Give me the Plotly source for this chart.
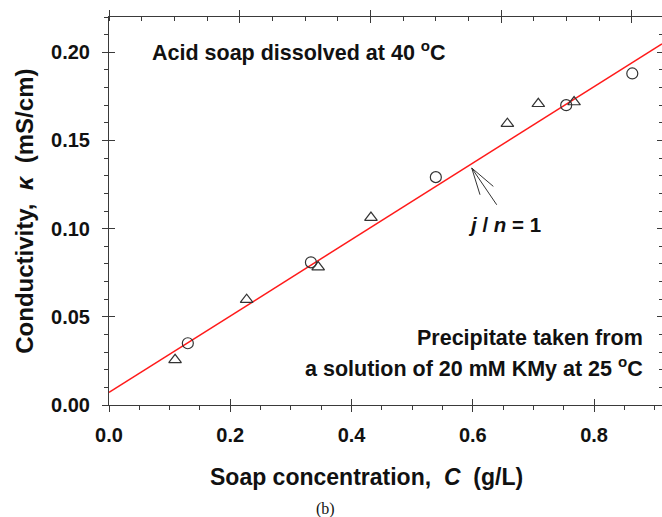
import numpy as np
import plotly.graph_objects as go

# Measured conductivity of the acid soap (two preparations)
conc_circle = [0.130, 0.333, 0.539, 0.754, 0.863]
kappa_circle = [0.0350, 0.0809, 0.1292, 0.1700, 0.1880]
conc_triangle = [0.109, 0.227, 0.345, 0.432, 0.657, 0.708, 0.767]
kappa_triangle = [0.0256, 0.0597, 0.0782, 0.1063, 0.1595, 0.1708, 0.1718]

# Straight line for j / n = 1
fit_intercept = 0.0071
fit_slope = 0.2168

X_RANGE = [0.0, 0.912]
TOP_RANGE = [0.0, 0.846]
Y_RANGE = [0.0, 0.22]

AX = "#3a3a3a"
TXT = "#111111"
SANS = "Liberation Sans, Arial, sans-serif"

fit_x = np.array(X_RANGE)
fit_y = fit_intercept + fit_slope * fit_x

fig = go.Figure()
fig.add_trace(go.Scatter(x=fit_x, y=fit_y, mode="lines",
                         line=dict(color="#ff1a1a", width=1.5),
                         showlegend=False, hoverinfo="skip"))
fig.add_trace(go.Scatter(x=conc_circle, y=kappa_circle, mode="markers",
                         marker=dict(symbol="circle-open", size=11, color="#333333",
                                     line=dict(width=1.2)),
                         showlegend=False))
fig.add_trace(go.Scatter(x=conc_triangle, y=kappa_triangle, mode="markers",
                         marker=dict(symbol="triangle-up-open", size=11, color="#333333",
                                     line=dict(width=1.2)),
                         showlegend=False))

# empty traces so the extra frame axes are drawn
for xa, ya in [("x2", "y"), ("x3", "y2"), ("x4", "y3")]:
    fig.add_trace(go.Scatter(x=[None], y=[None], xaxis=xa, yaxis=ya,
                             showlegend=False, hoverinfo="skip"))

plain = dict(showgrid=False, zeroline=False)
fig.update_layout(
    width=662, height=517,
    margin=dict(l=109, r=0, t=17, b=112),
    paper_bgcolor="white", plot_bgcolor="white",
    font=dict(family=SANS, color=TXT),
    xaxis=dict(range=X_RANGE, dtick=0.2, tick0=0, tickformat=".1f",
               ticks="outside", ticklen=6, tickwidth=1, tickcolor=AX,
               showline=True, linecolor=AX, linewidth=1,
               minor=dict(dtick=0.05, tick0=0, ticks="outside", ticklen=4, tickcolor=AX),
               tickfont=dict(size=20, family=SANS, color=TXT, weight="bold"),
               ticklabelstandoff=6, anchor="y", **plain),
    xaxis3=dict(range=X_RANGE, dtick=0.2, tick0=0, overlaying="x", anchor="y2", side="bottom",
                ticks="inside", ticklen=6, tickcolor=AX, showticklabels=False,
                showline=False, **plain),
    xaxis2=dict(range=TOP_RANGE, dtick=0.2, tick0=0, overlaying="x", anchor="y", side="top",
                ticks="outside", ticklen=6, tickcolor=AX, showticklabels=False,
                showline=True, linecolor=AX, linewidth=1,
                minor=dict(dtick=0.05, tick0=0, ticks="inside", ticklen=4, tickcolor=AX),
                **plain),
    xaxis4=dict(range=TOP_RANGE, dtick=0.2, tick0=0, overlaying="x", anchor="y3", side="top",
                ticks="inside", ticklen=6, tickcolor=AX, showticklabels=False,
                showline=False, **plain),
    yaxis=dict(range=Y_RANGE, dtick=0.05, tick0=0, tickformat=".2f",
               ticks="outside", ticklen=6, tickwidth=1, tickcolor=AX,
               showline=True, linecolor=AX, linewidth=1,
               minor=dict(dtick=0.01, tick0=0, ticks="outside", ticklen=4, tickcolor=AX),
               tickfont=dict(size=20, family=SANS, color=TXT, weight="bold"),
               ticklabelstandoff=8, anchor="x", **plain),
    yaxis2=dict(range=Y_RANGE, dtick=0.05, tick0=0, overlaying="y", anchor="x3", side="left",
                ticks="inside", ticklen=6, tickcolor=AX, showticklabels=False,
                showline=False, **plain),
    yaxis3=dict(range=Y_RANGE, dtick=0.05, tick0=0, overlaying="y", anchor="x4", side="right",
                ticks="inside", ticklen=5, tickcolor=AX, showticklabels=False,
                minor=dict(dtick=0.01, tick0=0, ticks="inside", ticklen=3, tickcolor=AX),
                showline=False, **plain),
)

bold = dict(family=SANS, color=TXT, weight="bold")
annotations = [
    dict(text="Soap concentration,  <i>C</i>  (g/L)", x=0.4665, y=-0.186,
         xanchor="center", yanchor="middle", font=dict(size=23, **bold)),
    dict(text="Conductivity,  <i>κ</i>  (mS/cm)", x=-0.152, y=0.5006, textangle=-90,
         xanchor="center", yanchor="middle", font=dict(size=24, **bold)),
    dict(text="Acid soap dissolved at 40 <sup>o</sup>C", x=0.0741, y=0.913,
         xanchor="left", yanchor="middle", font=dict(size=21.5, **bold)),
    dict(text="<i>j</i> / <i>n</i> = 1", x=0.716, y=0.4645,
         xanchor="center", yanchor="middle", font=dict(size=20.5, **bold)),
    dict(text="Precipitate taken from", x=0.969, y=0.1716,
         xanchor="right", yanchor="middle", font=dict(size=21.5, **bold)),
    dict(text="a solution of 20 mM KMy at 25 <sup>o</sup>C", x=0.969, y=0.098,
         xanchor="right", yanchor="middle", font=dict(size=21.5, **bold)),
    dict(text="(b)", x=0.3906, y=-0.268, xanchor="center", yanchor="middle",
         font=dict(size=16, family="Liberation Serif, serif", color=TXT)),
]
for a in annotations:
    fig.add_annotation(xref="paper", yref="paper", showarrow=False, **a)

# long open arrow pointing at the fitted line
tip = (0.6559, 0.6108)
arrow_ends = [(0.6709, 0.5419), (0.7011, 0.5161), (0.6950, 0.5634)]
for ex, ey in arrow_ends:
    fig.add_shape(type="line", xref="paper", yref="paper",
                  x0=tip[0], y0=tip[1], x1=ex, y1=ey,
                  line=dict(color="#333333", width=1))

fig.write_html("out.html")
